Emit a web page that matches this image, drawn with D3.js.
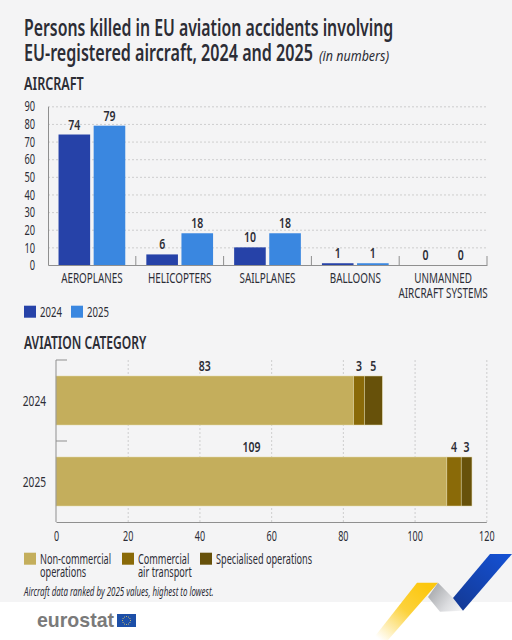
<!DOCTYPE html>
<html>
<head>
<meta charset="utf-8">
<script src="https://cdn.jsdelivr.net/npm/d3@7"></script>
<style>
body { margin: 0; background: #fff; }
text { font-family: "Noto Sans", sans-serif; fill: #2c2d35; }
</style>
</head>
<body>
<div id="grafico"></div>
<script>
var aircraft = ["AEROPLANES", "HELICOPTERS", "SAILPLANES", "BALLOONS", "UNMANNED\nAIRCRAFT SYSTEMS"];
var years = ["2024", "2025"];
var values2024 = [74, 6, 10, 1, 0];
var values2025 = [79, 18, 18, 1, 0];
var aircraftTicks = [0, 10, 20, 30, 40, 50, 60, 70, 80, 90];

var categories = ["Non-commercial\noperations", "Commercial\nair transport", "Specialised operations"];
var nonCommercial = [83, 109];
var commercial = [3, 4];
var specialised = [5, 3];
var categoryTicks = [0, 20, 40, 60, 80, 100, 120];

var yearColors = ["#2642a8", "#3a87e0"];
var categoryColors = ["#c4ae5c", "#8a6a08", "#67510a"];

var svg = d3.select("#grafico").append("svg").attr("width", 512).attr("height", 640).style("display", "block");

var defs = svg.append("defs");
function degrade(id, x1, y1, x2, y2, stops)
{
    var g = defs.append("linearGradient").attr("id", id).attr("gradientUnits", "userSpaceOnUse")
        .attr("x1", x1).attr("y1", y1).attr("x2", x2).attr("y2", y2);
    stops.forEach(function(s) { g.append("stop").attr("offset", s[0]).attr("stop-color", s[1]); });
}
degrade("amarelo", 425, 585, 380, 640, [[0, "#fcc70e"], [0.45, "#fcd23c"], [1, "#ffffff"]]);
degrade("cinza", 432, 588, 462, 610, [[0, "#a9abae"], [0.6, "#dcdde0"], [1, "#f4f4f5"]]);
degrade("azul", 505, 554, 460, 610, [[0, "#1450d2"], [1, "#143a96"]]);

svg.append("rect").attr("width", 512).attr("height", 602).attr("fill", "#f4f4f5");

// ribbon in the corner
function fita(pontos, cor)
{
    svg.append("polygon").attr("points", pontos).attr("fill", cor);
}
fita("417,582.7 438,582.7 388,640 372,640", "url(#amarelo)");
fita("438,582.7 453,598 463,610.7 440,611.7 428,597", "url(#cinza)");
fita("490,554 512,554 463,610.7 453,598", "url(#azul)");

// the original font is condensed, none is installed, so squeeze the glyphs
var APERTO = 0.7;
function estreita(sel, r)
{
    sel.each(function() {
        var len = this.getComputedTextLength();
        this.setAttribute("textLength", len * (r || APERTO));
        this.setAttribute("lengthAdjust", "spacingAndGlyphs");
    });
    return sel;
}

function texto(x, y, s, size, weight, style, r)
{
    var t = svg.append("text").attr("x", x).attr("y", y).text(s)
        .style("font-size", size + "px")
        .style("font-weight", weight || "normal")
        .style("font-style", style || "normal");
    return estreita(t, r);
}

function linhas(sel, s, dy, r)
{
    var x = sel.attr("x");
    sel.text(null);
    s.split("\n").forEach(function(l, i) {
        estreita(sel.append("tspan").attr("x", x).attr("dy", i == 0 ? 0 : dy).text(l), r);
    });
}

// titles
texto(24, 36, "Persons killed in EU aviation accidents involving", 23, 600, "normal", 0.688);
texto(24, 61, "EU-registered aircraft, 2024 and 2025", 23, 600, "normal", 0.7);
texto(319, 61, "(in numbers)", 14.5, "normal", "italic", 0.86);
texto(24, 90, "AIRCRAFT", 18, 600, "normal", 0.7);
texto(24, 349, "AVIATION CATEGORY", 18, 600, "normal", 0.67);

// first chart: aircraft
var x0 = d3.scaleBand().domain(aircraft).range([48, 487]);
var xYear = d3.scaleBand().domain(years).range([0, x0.bandwidth()]).paddingInner(0.1).paddingOuter(0.3);
var y = d3.scaleLinear().domain([0, 90]).range([265, 106.3]);

var gradeY = svg.append("g").attr("transform", "translate(48,0)")
    .call(d3.axisLeft(y).tickValues(aircraftTicks.slice(1)).tickSize(-439).tickFormat(""));
gradeY.select(".domain").remove();
gradeY.selectAll("line").attr("stroke", "#c4c4c4").attr("stroke-width", 0.8).attr("stroke-dasharray", "2,2");

var seriesYear = [values2024, values2025];
years.forEach(function(ano, k) {
    svg.append("g").selectAll("rect").data(seriesYear[k]).enter().append("rect")
        .attr("x", function(d, i) { return x0(aircraft[i]) + xYear(ano); })
        .attr("width", xYear.bandwidth())
        .attr("y", function(d) { return y(d); })
        .attr("height", function(d) { return y(0) - y(d); })
        .attr("fill", yearColors[k]);
    var rotulos = svg.append("g").selectAll("text").data(seriesYear[k]).enter().append("text")
        .attr("x", function(d, i) { return x0(aircraft[i]) + xYear(ano) + xYear.bandwidth() / 2; })
        .attr("y", function(d) { return y(d) - 5; })
        .attr("text-anchor", "middle")
        .style("font-size", "15px").style("font-weight", 600)
        .text(function(d) { return d; });
    estreita(rotulos);
});

var eixoY = svg.append("g").attr("transform", "translate(48,0)")
    .call(d3.axisLeft(y).tickValues(aircraftTicks).tickSize(0).tickPadding(13));
eixoY.select(".domain").attr("stroke", "#8f8f8f");
estreita(eixoY.selectAll("text").style("font-size", "14.5px"), 0.64);

var eixoX = svg.append("g").attr("transform", "translate(0,265)")
    .call(d3.axisBottom(x0).tickSize(0).tickPadding(10));
eixoX.select(".domain").attr("stroke", "#8f8f8f");
eixoX.selectAll("text").style("font-size", "14.5px").attr("x", 0).attr("y", 18).each(function(d) {
    linhas(d3.select(this), d, 15, 0.68);
});
// small separators between the groups
svg.append("g").selectAll("line").data(aircraft.slice(1)).enter().append("line")
    .attr("x1", function(d) { return x0(d); }).attr("x2", function(d) { return x0(d); })
    .attr("y1", 256).attr("y2", 265).attr("stroke", "#8f8f8f");
svg.append("line").attr("x1", 487).attr("x2", 487).attr("y1", 256).attr("y2", 265).attr("stroke", "#8f8f8f");

// legend 1
years.forEach(function(ano, k) {
    var lx = [24, 71][k];
    svg.append("rect").attr("x", lx).attr("y", 305.7).attr("width", 12).attr("height", 12).attr("fill", yearColors[k]);
    texto(lx + 16, 317, ano, 14.5, "normal", "normal", 0.66);
});

// second chart: aviation category
var x = d3.scaleLinear().domain([0, 120]).range([56, 486.3]);
var yBand = d3.scaleBand().domain(years).range([360, 522]).paddingInner(0.395).paddingOuter(0.1975);
var yTick = d3.scaleBand().domain(years).range([360, 522]);

var gradeX = svg.append("g").attr("transform", "translate(0,522)")
    .call(d3.axisBottom(x).tickValues(categoryTicks.slice(1)).tickSize(-162).tickFormat(""));
gradeX.select(".domain").remove();
gradeX.selectAll("line").attr("stroke", "#c4c4c4").attr("stroke-width", 0.8).attr("stroke-dasharray", "2,2");

var pilha = d3.stack().keys([0, 1, 2]).value(function(d, k) { return d[k]; });
var linhasPilha = years.map(function(a, i) { return [nonCommercial[i], commercial[i], specialised[i]]; });
var camadas = pilha(linhasPilha);

camadas.forEach(function(camada, k) {
    svg.append("g").selectAll("rect").data(camada).enter().append("rect")
        .attr("x", function(d) { return x(d[0]); })
        .attr("width", function(d) { return x(d[1]) - x(d[0]); })
        .attr("y", function(d, i) { return yBand(years[i]); })
        .attr("height", yBand.bandwidth())
        .attr("fill", categoryColors[k])
        .attr("stroke", "#e3d9a8").attr("stroke-width", 0.5);
    var rotulos = svg.append("g").selectAll("text").data(camada).enter().append("text")
        .attr("x", function(d) { return x((d[0] + d[1]) / 2); })
        .attr("y", function(d, i) { return yBand(years[i]) - 5; })
        .attr("text-anchor", "middle")
        .style("font-size", "15px").style("font-weight", 600)
        .text(function(d) { return d[1] - d[0]; });
    estreita(rotulos);
});

var eixoAno = svg.append("g").attr("transform", "translate(56,0)")
    .call(d3.axisLeft(yBand).tickSize(0).tickPadding(10));
eixoAno.select(".domain").remove();
estreita(eixoAno.selectAll("text").style("font-size", "14.5px").attr("dy", "0.4em"));
svg.append("line").attr("x1", 56).attr("x2", 56).attr("y1", 360).attr("y2", 522).attr("stroke", "#8f8f8f");
svg.append("g").selectAll("line").data([360, yTick("2025")]).enter().append("line")
    .attr("x1", 56).attr("x2", 67).attr("y1", function(d) { return d; }).attr("y2", function(d) { return d; })
    .attr("stroke", "#8f8f8f");

var eixoValor = svg.append("g").attr("transform", "translate(0,522)")
    .call(d3.axisBottom(x).tickValues(categoryTicks).tickSize(0).tickPadding(9));
eixoValor.select(".domain").attr("stroke", "#8f8f8f");
estreita(eixoValor.selectAll("text").style("font-size", "14.5px"), 0.62);

// legend 2
categories.forEach(function(c, k) {
    var lx = [24, 122, 200][k];
    svg.append("rect").attr("x", lx).attr("y", 552.7).attr("width", 12).attr("height", 12).attr("fill", categoryColors[k]);
    var t = svg.append("text").attr("x", lx + 16).attr("y", 564).style("font-size", "14.5px");
    linhas(t, c, 13, 0.63);
});

texto(24, 596, "Aircraft data ranked by 2025 values, highest to lowest.", 12, "normal", "italic", 0.66);

// eurostat logo
svg.append("text").attr("x", 37).attr("y", 627).text("eurostat")
    .attr("textLength", 77).attr("lengthAdjust", "spacingAndGlyphs")
    .style("font-family", "'Liberation Sans', sans-serif").style("font-size", "21px")
    .style("font-weight", "bold").style("fill", "#7a7a7a");
svg.append("rect").attr("x", 117).attr("y", 614).attr("width", 19).attr("height", 13).attr("fill", "#1c4fa8");
svg.append("g").selectAll("circle").data(d3.range(12)).enter().append("circle")
    .attr("cx", function(d) { return 126.5 + 4 * Math.cos(d * Math.PI / 6); })
    .attr("cy", function(d) { return 620.5 + 4 * Math.sin(d * Math.PI / 6); })
    .attr("r", 0.5).attr("fill", "#f4d35e");
</script>
</body>
</html>
